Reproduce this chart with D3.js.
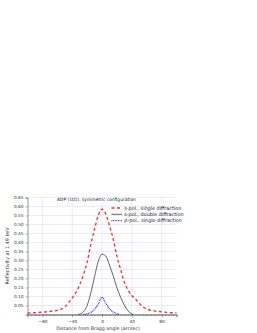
<!DOCTYPE html>
<html lang="en">
<head>
<meta charset="utf-8">
<script src="https://d3js.org/d3.v7.min.js"></script>
<style>
  body { margin: 0; background: #fff; }
  text { font-family: "DejaVu Sans", Verdana, sans-serif; }
</style>
</head>
<body>
<script>
// s-pol., single diffraction
var sSingleX = [-100, -90, -80, -70, -60, -55, -50, -45, -40, -35, -30, -25, -20, -15, -10, -5, 0, 5, 10, 15, 20, 25, 30, 35, 40, 45, 50, 55, 60, 70, 80, 90, 100];
var sSingleY = [0.008, 0.010, 0.013, 0.017, 0.023, 0.029, 0.042, 0.065, 0.092, 0.122, 0.165, 0.220, 0.290, 0.390, 0.475, 0.550, 0.585, 0.560, 0.495, 0.420, 0.325, 0.250, 0.180, 0.135, 0.105, 0.085, 0.062, 0.042, 0.030, 0.020, 0.015, 0.011, 0.009];
// s-pol., double diffraction
var sDoubleX = [-32, -30, -25, -20, -15, -10, -5, 0, 5, 10, 15, 20, 25, 30, 35, 40, 42];
var sDoubleY = [0, 0.002, 0.015, 0.050, 0.120, 0.210, 0.295, 0.335, 0.325, 0.275, 0.215, 0.150, 0.095, 0.052, 0.020, 0.003, 0];
// p-pol., single diffraction
var pSingleX = [-25, -20, -15, -10, -5, 0, 5, 10, 15, 20, 23];
var pSingleY = [0, 0.004, 0.012, 0.028, 0.058, 0.096, 0.063, 0.032, 0.014, 0.005, 0];

var xTicks = [-80, -40, 0, 40, 80];
var yTicks = [0.05, 0.10, 0.15, 0.20, 0.25, 0.30, 0.35, 0.40, 0.45, 0.50, 0.55, 0.60, 0.65];
var legendLabels = ["s-pol., single diffraction", "s-pol., double diffraction", "p-pol., single diffraction"];

var w = 257, h = 333;
var svg = d3.select("body").append("svg").attr("width", w).attr("height", h);

var x = d3.scaleLinear().domain([-100, 100]).range([27.5, 176.5]);
var y = d3.scaleLinear().domain([0, 0.65]).range([314.5, 197.5]);

// shrink/grow font so a label spans roughly the width seen in the picture
function fit(t, width) {
  var len = t.node().getComputedTextLength();
  var fs = parseFloat(t.style("font-size"));
  t.style("font-size", (fs * width / len).toFixed(2) + "px");
  return t;
}

var grid = "#dcdcf6";
// gridlines
svg.append("g").selectAll("line").data(yTicks).enter().append("line")
  .attr("x1", x(-100)).attr("x2", x(100))
  .attr("y1", d => y(d)).attr("y2", d => y(d))
  .style("stroke", grid).style("stroke-width", 0.6);
svg.append("g").selectAll("line").data(xTicks).enter().append("line")
  .attr("x1", d => x(d)).attr("x2", d => x(d))
  .attr("y1", y(0)).attr("y2", y(0.65))
  .style("stroke", grid).style("stroke-width", 0.6);

// axes
var yAxis = d3.axisLeft(y).tickValues(yTicks).tickFormat(d3.format(".2f")).tickSize(2).tickPadding(2);
svg.append("g").attr("transform", "translate(" + x(-100) + ",0)").call(yAxis);
var xMinor = d3.axisBottom(x).tickValues(d3.range(-100, 101, 5)).tickFormat("").tickSize(1.5);
svg.append("g").attr("transform", "translate(0," + y(0) + ")").call(xMinor);
var xAxis = d3.axisBottom(x).tickValues(xTicks).tickSize(3).tickPadding(2).tickFormat(d3.format("d"));
svg.append("g").attr("transform", "translate(0," + y(0) + ")").call(xAxis);
svg.selectAll(".domain").style("stroke", "#666").style("stroke-width", 0.7);
svg.selectAll(".tick line").style("stroke", "#666").style("stroke-width", 0.5);
svg.selectAll(".tick text").style("font-size", "4.3px").style("fill", "#333");

// axis titles
fit(svg.append("text").attr("x", 98).attr("y", 330.3).attr("text-anchor", "middle")
  .style("font-size", "5px").style("fill", "#333").text("Distance from Bragg angle (arcsec)"), 84);
fit(svg.append("text").attr("transform", "translate(9.3,256) rotate(-90)")
  .attr("text-anchor", "middle").style("font-size", "5px").style("fill", "#333")
  .text("Reflectivity at 1.49 keV"), 57);

// curves
var line = d3.line().x(d => x(d[0])).y(d => y(d[1])).curve(d3.curveMonotoneX);
function zip(a, b) { return a.map((v, i) => [v, b[i]]); }

svg.append("path").datum(zip(sDoubleX, sDoubleY)).attr("d", line)
  .style("fill", "none").style("stroke", "#222").style("stroke-width", 0.7);
svg.append("path").datum(zip(pSingleX, pSingleY)).attr("d", line)
  .style("fill", "none").style("stroke", "#2a2aff").style("stroke-width", 1.3)
  .style("stroke-dasharray", "0.8,0.8");
svg.append("path").datum(zip(sSingleX, sSingleY)).attr("d", line)
  .style("fill", "none").style("stroke", "#ff2a2a").style("stroke-width", 1.3)
  .style("stroke-dasharray", "3,2.5");

// title
fit(svg.append("text").attr("x", 57).attr("y", 200.5).style("font-size", "5px").style("fill", "#222")
  .text("ADP (101), symmetric configuration"), 79);

// legend
var legStyles = [
  { c: "#ff2a2a", dash: "3,2.5", sw: 1.3 },
  { c: "#222", dash: null, sw: 0.7 },
  { c: "#2a2aff", dash: "0.8,0.8", sw: 1.3 }
];
var leg = svg.append("g");
var legFs = null;
legendLabels.forEach(function (lab, i) {
  var yy = 208 + i * 6.3;
  leg.append("line").attr("x1", 111.5).attr("x2", 122).attr("y1", yy).attr("y2", yy)
    .style("stroke", legStyles[i].c).style("stroke-width", legStyles[i].sw)
    .style("stroke-dasharray", legStyles[i].dash);
  var t = leg.append("text").attr("x", 124.3).attr("y", yy + 1.6).style("font-size", "5px").style("fill", "#222").text(lab);
  if (i === 0) { fit(t, 57); legFs = t.style("font-size"); } else { t.style("font-size", legFs); }
});
</script>
</body>
</html>
